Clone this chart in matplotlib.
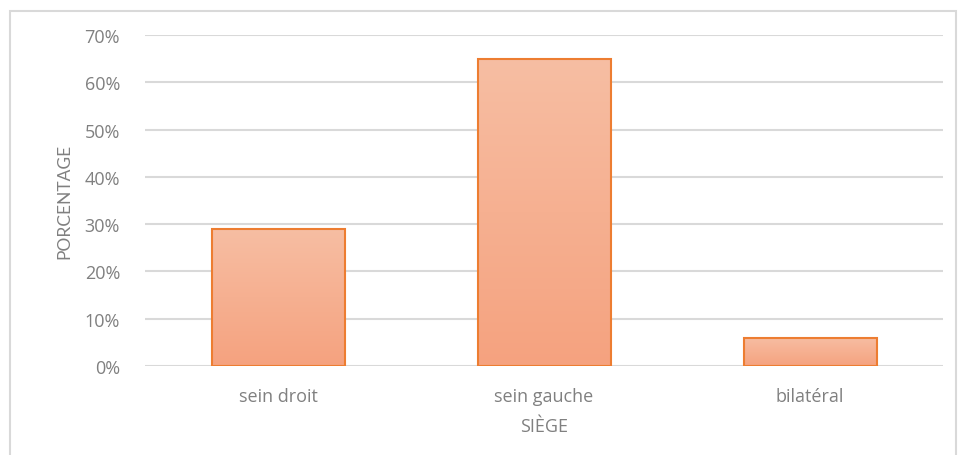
import numpy as np
import matplotlib.pyplot as plt
from matplotlib.colors import LinearSegmentedColormap
from matplotlib.patches import Rectangle

categories = ['sein droit', 'sein gauche', 'bilatéral']
values = [29, 65, 6]
yticks = [0, 10, 20, 30, 40, 50, 60, 70]

plt.rcParams['font.family'] = ['Open Sans', 'DejaVu Sans']

fig = plt.figure(figsize=(9.59, 4.56), dpi=100)
# cadre gris autour du graphique
fig.patches.append(Rectangle((10 / 959, -0.01), 946 / 959, 1 - 12 / 456 + 0.01,
                             transform=fig.transFigure, fill=False,
                             edgecolor='#d9d9d9', lw=1.5))

ax = fig.add_axes([145 / 959, 89 / 456, 798 / 959, 331 / 456])

cmap = LinearSegmentedColormap.from_list('grad', ['#f5a27f', '#f7bea3'])
grad = np.linspace(0, 1, 256).reshape(-1, 1)

x = np.arange(len(categories))
bars = ax.bar(x, values, width=0.5, color='none', edgecolor='#ed7d31',
              linewidth=1.5, zorder=3)
for b in bars:
    x0, y0 = b.get_x(), b.get_y()
    w, h = b.get_width(), b.get_height()
    im = ax.imshow(grad, cmap=cmap, aspect='auto', origin='lower',
                   extent=[x0, x0 + w, y0, y0 + h], zorder=2)
    im.set_clip_path(b)

ax.set_xlim(-0.5, len(categories) - 0.5)
ax.set_ylim(0, 70)
ax.set_yticks(yticks)
ax.set_yticklabels([f'{t}%' for t in yticks])
ax.set_xticks(x)
ax.set_xticklabels(categories)
ax.grid(axis='y', color='#d9d9d9', linewidth=1.5, zorder=0)
for s in ax.spines.values():
    s.set_visible(False)
ax.tick_params(length=0, labelsize=13, colors='#808080')
ax.tick_params(axis='y', pad=18)
ax.tick_params(axis='x', pad=15)

ax.set_xlabel('SIÈGE', fontsize=13, color='#808080', labelpad=9)
ax.set_ylabel('PORCENTAGE', fontsize=12.5, color='#808080', labelpad=9,
              family=['Lato', 'DejaVu Sans'])

fig.savefig('out.png', dpi=100)
